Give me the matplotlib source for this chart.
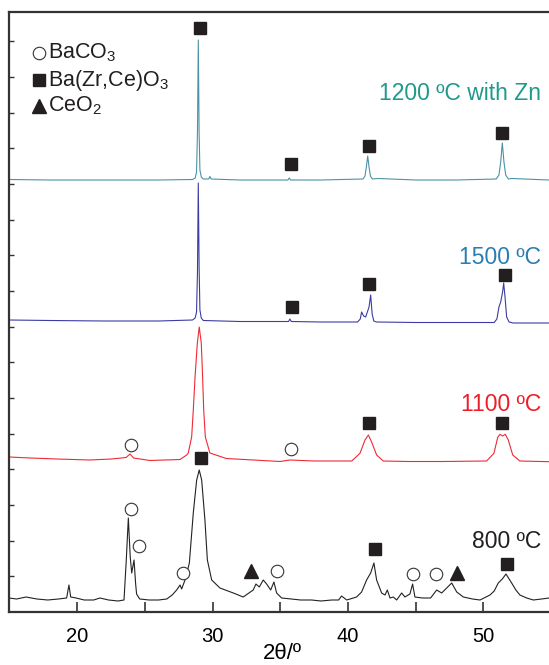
import numpy as np
import matplotlib
matplotlib.use('Agg')
import matplotlib.pyplot as plt

plt.rcParams['font.family'] = ['Liberation Sans', 'DejaVu Sans']
plt.rcParams['mathtext.fontset'] = 'custom'
plt.rcParams['mathtext.rm'] = 'Liberation Sans'
plt.rcParams['mathtext.default'] = 'rm'

# 2theta / intensity (offset stacked, arbitrary units)
tt_800 = [14.95, 15.5, 16.2, 17.0, 17.8, 18.6, 19.2, 19.37, 19.5, 19.9, 20.5, 21.2, 21.66, 22.3, 23.0,
          23.44, 23.6, 23.76, 23.9, 24.01, 24.18, 24.3, 24.37, 24.6, 25.3, 26.0, 26.6, 27.0, 27.33,
          27.58, 27.7, 27.95, 28.27, 28.56, 28.81, 29.0, 29.18, 29.42, 29.6, 29.92, 30.53, 31.52,
          32.25, 32.99, 33.19, 33.44, 33.73, 33.98, 34.28, 34.52, 34.72, 35.09, 35.8, 36.5, 37.3,
          38.0, 38.8, 39.3, 39.52, 39.9, 40.63, 41.0, 41.37, 41.67, 41.91, 42.11, 42.48, 42.73,
          42.9, 43.1, 43.34, 43.59, 43.96, 44.2, 44.57, 44.77, 44.94, 45.5, 46.1, 46.55, 46.92,
          47.29, 47.66, 48.03, 48.52, 49.2, 49.75, 50.49, 50.8, 51.1, 51.4, 51.67, 52.09, 52.4,
          52.7, 53.2, 53.69, 54.3, 54.85]
i_800 = [14, 13, 15, 13, 12, 13, 14, 27, 15, 14, 12, 12, 14, 12, 11,
         12, 50, 94, 55, 39, 52, 28, 18, 13, 12, 12, 13, 17, 22,
         27, 23, 32, 49, 99, 132, 142, 132, 92, 52, 32, 24, 19,
         15, 22, 28, 25, 32, 28, 22, 30, 19, 14, 13, 12, 12,
         11, 12, 12, 16, 12, 15, 20, 32, 39, 49, 32, 19, 17,
         22, 14, 15, 12, 19, 15, 18, 28, 15, 14, 14, 22, 19,
         24, 29, 20, 15, 13, 12, 17, 21, 29, 33, 38, 29, 22,
         17, 14, 12, 13, 14]

tt_1100 = [14.95, 16.5, 18.5, 20.9, 22.5, 23.6, 23.88, 24.15, 25.36, 27.58, 28.07, 28.19, 28.44,
           28.56, 28.69, 28.86, 29.0, 29.15, 29.25, 29.33, 29.45, 29.79, 31.0, 33.0, 34.97, 35.7,
           37.5, 40.27, 40.88, 41.25, 41.5, 41.74, 42.11, 42.6, 44.5, 47.0, 50.24, 50.78, 51.06,
           51.23, 51.42, 51.62, 51.84, 52.17, 52.7, 54.85]
i_1100 = [155, 154, 153, 152, 153, 154.5, 158, 154, 151.5, 152.5, 157, 159, 175,
          202, 235, 269, 285, 269, 235, 202, 175, 159, 153.5, 152, 150.5, 152,
          151, 151, 158.7, 172, 177, 170, 157, 151, 150.5, 150.5, 151, 158.7, 174.7,
          177.7, 176, 177.7, 172, 157, 151, 150.3]

tt_1500 = [14.95, 18.0, 22.0, 26.0, 28.5, 28.7, 28.8, 28.87, 28.93, 28.99, 29.05, 29.15, 29.3, 32.0,
           35.6, 35.7, 35.8, 38.0, 40.7, 40.9, 41.0, 41.15, 41.3, 41.55, 41.67, 41.78, 41.9, 42.1,
           45.0, 48.0, 50.8, 51.0, 51.15, 51.28, 51.42, 51.5, 51.6, 51.72, 51.9, 52.2, 54.85]
i_1500 = [292, 291.5, 291, 291, 292, 294, 300, 340, 429, 345, 302, 294, 291.5, 290.5,
          290.5, 293, 290.5, 290, 290, 293, 300, 296, 295, 305, 317, 298, 291, 290,
          289.5, 289.5, 289.5, 293, 305, 310, 320, 329, 315, 295, 290, 289, 289]

tt_zn = [14.95, 18.0, 22.0, 26.0, 28.5, 28.7, 28.8, 28.87, 28.93, 28.99, 29.05, 29.15, 29.3, 29.7,
         29.79, 29.88, 32.0, 35.55, 35.65, 35.75, 38.0, 41.1, 41.25, 41.35, 41.45, 41.55, 41.65,
         41.8, 42.2, 45.0, 48.0, 50.95, 51.15, 51.28, 51.4, 51.52, 51.65, 51.85, 52.1, 54.85]
i_zn = [432.5, 432, 432, 432, 432.5, 434, 440, 480, 572, 480, 442, 435, 433, 433,
        435.5, 433, 432, 432, 434, 432, 432, 433, 436, 445, 456, 445, 436,
        433, 433.5, 432, 432, 433, 437, 450, 469, 450, 437, 433, 433.5, 432]

# phase markers (2theta, height)
baco3_tt = [23.95, 24.57, 27.77, 34.72, 44.77, 46.5, 23.95, 35.76]
baco3_y = [102.7, 66, 38.7, 41.3, 38, 38, 167, 163]
bzco_tt = [29.1, 41.99, 51.72, 41.52, 51.35, 35.83, 41.54, 51.6, 29.05, 35.78, 41.54, 51.4]
bzco_y = [153.7, 63, 48, 188.7, 188.7, 305.5, 328, 337, 583.7, 448, 466.3, 479.3]
ceo2_tt = [32.8, 48.07]
ceo2_y = [41, 38.7]

labels = ['1200 ºC with Zn', '1500 ºC', '1100 ºC', '800 ºC']
label_y = [519, 355, 208, 71]
label_colors = ['#1e9a8c', '#2a7db3', '#ee1d2a', '#231f20']

fig = plt.figure(figsize=(5.49, 6.65), dpi=100)
ax = fig.add_axes([9 / 549, 1 - 612 / 665, 540 / 549, 600 / 665])

ax.plot(tt_zn, i_zn, color='#4a93a6', lw=0.8)
ax.plot(tt_1500, i_1500, color='#3c3ca3', lw=0.8)
ax.plot(tt_1100, i_1100, color='#ee2a35', lw=0.8)
ax.plot(tt_800, i_800, color='#222222', lw=0.8)

mk = '#231f20'
ax.plot(baco3_tt, baco3_y, 'o', ms=9, mfc='white', mec='#333333', mew=0.8, ls='none')
ax.plot(bzco_tt, bzco_y, 's', ms=8.5, color=mk, ls='none')
ax.plot(ceo2_tt, ceo2_y, '^', ms=10, color=mk, ls='none')

for t, y, c in zip(labels, label_y, label_colors):
    ax.text(54.26, y, t, color=c, fontsize=16.5, ha='right', va='center')

# legend drawn by hand
leg_y = [559, 532, 506]
leg_txt = ['BaCO$_3$', 'Ba(Zr,Ce)O$_3$', 'CeO$_2$']
ax.plot([17.15], [leg_y[0]], 'o', ms=9, mfc='white', mec='#333333', mew=0.8)
ax.plot([17.15], [leg_y[1]], 's', ms=8.5, color=mk)
ax.plot([17.15], [leg_y[2]], '^', ms=10, color=mk)
for y, t in zip(leg_y, leg_txt):
    ax.text(17.8, y, t, fontsize=15.5, ha='left', va='center', color='#231f20')

ax.set_xlim(14.94, 54.85)
ax.set_ylim(0, 600)
ax.set_xticks([20, 30, 40, 50])
ax.set_xticks([25, 35, 45], minor=True)
ax.set_yticks(np.arange(1, 17) * 35.67)
ax.set_yticklabels([])
ax.tick_params(axis='x', which='both', direction='in', length=7, width=1.2,
               color='#333333', labelsize=14.5, pad=11)
ax.tick_params(axis='y', direction='in', length=3.5, width=1.0, color='#333333')
for s in ['left', 'top', 'bottom']:
    ax.spines[s].set_linewidth(1.6)
    ax.spines[s].set_color('#333333')
ax.spines['right'].set_visible(False)
ax.set_xlabel('2θ/º', fontsize=16, va='bottom')
ax.xaxis.set_label_coords(0.507, -52 / 600)

fig.savefig('out.png', dpi=100)
